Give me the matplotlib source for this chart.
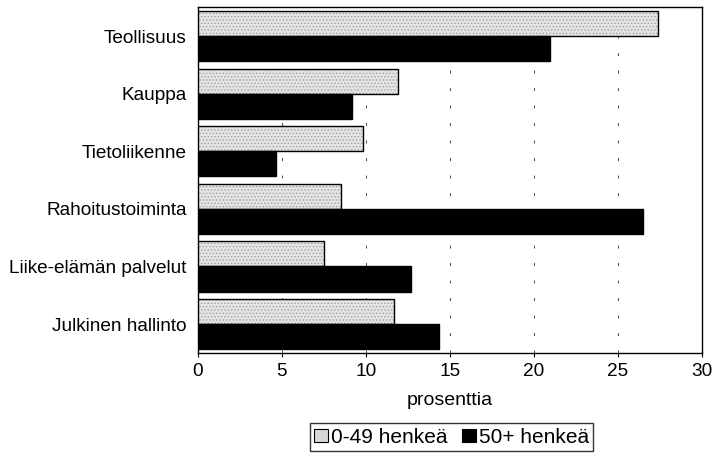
import numpy as np
import matplotlib
matplotlib.use("Agg")
import matplotlib.pyplot as plt
from matplotlib.patches import Patch

plt.rcParams['font.family'] = ['Liberation Sans', 'DejaVu Sans']
plt.rcParams['hatch.linewidth'] = 0.6

categories = ["Teollisuus", "Kauppa", "Tietoliikenne", "Rahoitustoiminta",
              "Liike-elämän palvelut", "Julkinen hallinto"]
small = [27.4, 11.9, 9.85, 8.5, 7.5, 11.7]
large = [20.95, 9.15, 4.65, 26.5, 12.7, 14.35]
series_names = ["0-49 henkeä", "50+ henkeä"]
xticks = [0, 5, 10, 15, 20, 25, 30]

fig = plt.figure(figsize=(7.17, 4.53), dpi=100)
ax = fig.add_axes([0.276, 0.221, 0.703, 0.763])

y = np.arange(len(categories))
h = 0.435
# light bars: stippled fill layer, then outline layer
ax.barh(y - h / 2, small, height=h, color='#e4e4e4', edgecolor='#a0a0a0',
        hatch='.....', linewidth=0, zorder=3)
ax.barh(y - h / 2, small, height=h, color='none', edgecolor='black',
        linewidth=1.0, zorder=4)
ax.barh(y + h / 2, large, height=h, color='black', edgecolor='black',
        linewidth=1.0, zorder=3)

ax.set_ylim(len(categories) - 0.5, -0.5)
ax.set_xlim(0, 30)
ax.set_yticks(y)
ax.set_yticklabels(categories, fontsize=13.7)
ax.tick_params(axis='y', length=0, pad=8)
ax.set_xticks(xticks)
ax.set_xticklabels([str(t) for t in xticks], fontsize=13.7)
ax.tick_params(axis='x', length=3, width=0.8, pad=4)

for t in xticks[1:-1]:
    ax.axvline(t, color='#444444', linestyle=(0, (3, 15)), linewidth=0.7, zorder=1)

for s in ax.spines.values():
    s.set_linewidth(1.0)

ax.set_xlabel("prosenttia", fontsize=14, labelpad=9)

handles = [Patch(facecolor='#d8d8d8', edgecolor='black', linewidth=0.8),
           Patch(facecolor='black', edgecolor='black', linewidth=0.8)]
leg = fig.legend(handles, series_names, loc='center', bbox_to_anchor=(0.63, 0.035),
                 ncol=2, fontsize=15, frameon=True, fancybox=False, edgecolor='black',
                 handlelength=0.65, handleheight=0.6, handletextpad=0.15,
                 columnspacing=0.7, borderpad=0.2, borderaxespad=0)
leg.get_frame().set_linewidth(1.0)

fig.savefig("out.png", dpi=100)
